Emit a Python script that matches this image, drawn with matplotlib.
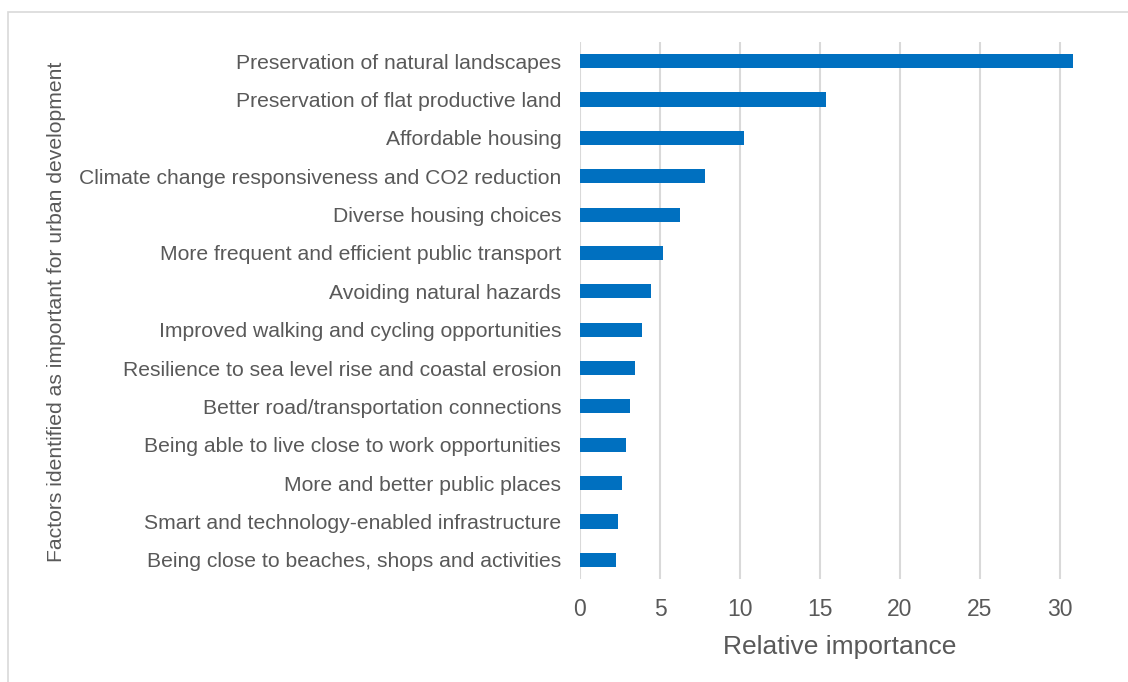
import matplotlib.pyplot as plt
from matplotlib.patches import Rectangle

plt.rcParams['font.family'] = ['Liberation Sans', 'DejaVu Sans']

# factors, top to bottom as shown in the chart
factors = [
    'Preservation of natural landscapes',
    'Preservation of flat productive land',
    'Affordable housing',
    'Climate change responsiveness and CO2 reduction',
    'Diverse housing choices',
    'More frequent and efficient public transport',
    'Avoiding natural hazards',
    'Improved walking and cycling opportunities',
    'Resilience to sea level rise and coastal erosion',
    'Better road/transportation connections',
    'Being able to live close to work opportunities',
    'More and better public places',
    'Smart and technology-enabled infrastructure',
    'Being close to beaches, shops and activities',
]
importance = [30.8, 15.4, 10.25, 7.8, 6.25, 5.2, 4.45, 3.9, 3.45, 3.15, 2.85, 2.6, 2.4, 2.25]
xticks = [0, 5, 10, 15, 20, 25, 30]

text_color = '#595959'
bar_color = '#0070c0'
grid_color = '#d9d9d9'

fig = plt.figure(figsize=(11.28, 6.82), dpi=100)
ax = fig.add_axes([580 / 1128, 1 - 579 / 682, 520 / 1128, 537 / 682])

# outer chart border like the Excel chart area
fig.patches.append(Rectangle((8 / 1128, -0.05), 1.2, 1 - 12 / 682 + 0.05,
                             transform=fig.transFigure, fill=False,
                             edgecolor='#d9d9d9', linewidth=1.2))

pos = list(range(len(factors)))
ax.barh(pos, importance, height=0.37, color=bar_color, zorder=3)
ax.set_ylim(len(factors) - 0.5, -0.5)
ax.set_xlim(0, 32.5)

ax.set_yticks(pos)
ax.set_yticklabels(factors, fontsize=15.2, color=text_color)
ax.set_xticks(xticks)
ax.set_xticklabels([str(t) for t in xticks], fontsize=16.5, color=text_color)
ax.tick_params(axis='y', length=0, pad=13.5)
ax.tick_params(axis='x', length=0, pad=14)

ax.grid(axis='x', color=grid_color, linewidth=1.5, zorder=0)
for s in ax.spines.values():
    s.set_visible(False)

ax.set_xlabel('Relative importance', fontsize=19, color=text_color, labelpad=10)
fig.text(57 / 1128, 1 - 312 / 682, 'Factors identified as important for urban development',
         rotation=90, ha='center', va='center', fontsize=15.2, color=text_color)

fig.savefig('out.png', dpi=100)
